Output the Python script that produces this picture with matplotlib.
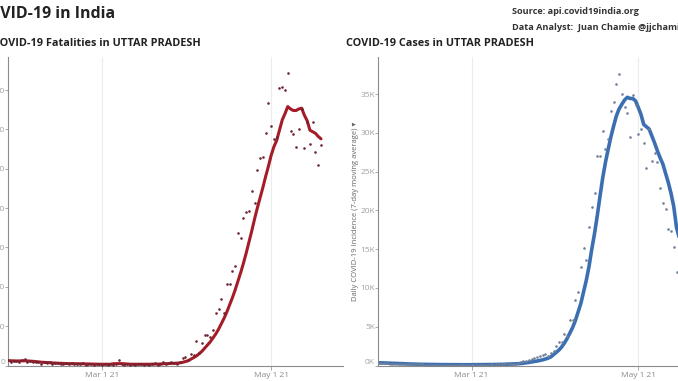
import matplotlib
matplotlib.use('Agg')
import matplotlib.pyplot as plt
import matplotlib.transforms as mtransforms
import pandas as pd

# ---------------- data ----------------
start_date = '2021-01-26'

deaths_daily = [7, 5, 6, 6, 5, 7, 8,
                5, 6, 5, 5, 4, 2, 4,
                3, 5, 2, 3, 3, 2, 2,
                3, 2, 3, 2, 2, 2, 3,
                1, 2, 2, 1, 2, 2, 1,
                2, 1, 2, 1, 2, 7, 2,
                1, 2, 1, 2, 1, 2, 2,
                1, 2, 1, 2, 3, 1, 2,
                4, 2, 3, 4, 3, 2, 5,
                10, 11, 7, 15, 13, 31, 16,
                29, 39, 39, 36, 45, 67, 72,
                85, 67, 104, 103, 120, 127, 168,
                162, 187, 195, 196, 222, 206, 249,
                264, 265, 296, 333, 304, 288, 290,
                352, 354, 350, 372, 298, 294, 278,
                301, 326, 277, 310, 281, 309, 271,
                255, 280]

deaths_avg = [6.2, 6.0, 5.9, 5.8, 5.8, 5.9, 6.0,
              5.8, 5.6, 5.3, 5.0, 4.6, 4.2, 4.0,
              3.8, 3.6, 3.3, 3.1, 2.9, 2.8, 2.6,
              2.5, 2.4, 2.4, 2.3, 2.3, 2.2, 2.2,
              2.0, 2.0, 1.9, 1.8, 1.7, 1.6, 1.6,
              1.6, 1.6, 1.6, 2.3, 2.3, 2.4, 2.4,
              2.2, 1.9, 1.7, 1.6, 1.6, 1.6, 1.6,
              1.6, 1.6, 1.6, 1.7, 1.8, 1.8, 1.9,
              2.2, 2.3, 2.5, 2.7, 2.8, 3.0, 3.3,
              4, 5, 6, 8, 10, 12, 15,
              18, 22, 26, 30, 35, 40, 46,
              53, 60, 68, 77, 86, 96, 107,
              118, 130, 143, 157, 171, 186, 200,
              213, 226, 240, 253, 267, 278, 286,
              299, 312, 320, 329, 326, 324, 324,
              326, 327, 318, 311, 299, 297, 295,
              291, 288]

cases_daily = [330, 290, 310, 270, 250, 240, 230,
               220, 200, 190, 180, 170, 160, 150,
               140, 150, 130, 120, 110, 120, 100,
               110, 100, 90, 100, 95, 100, 90,
               100, 95, 100, 90, 95, 100, 90,
               110, 100, 110, 120, 115, 120, 130,
               125, 140, 150, 160, 170, 340, 190,
               210, 230, 260, 430, 550, 640, 770,
               900, 990, 1120, 1200, 1300, 1460, 1200,
               1600, 1900, 2577, 3007, 3093, 4124, 3866,
               5842, 5928, 8419, 9536, 12715, 15200, 13571,
               17869, 20400, 22208, 27062, 27062, 30284, 27921,
               29210, 32818, 33943, 36302, 37586, 35009, 33376,
               32603, 29427, 34837, 33600, 29853, 30498, 28737,
               25430, 30500, 26377, 27448, 26289, 22852, 20920,
               20155, 17611, 17353, 15249, 12111, 13000, 12500,
               11000, 10500]

cases_avg = [350, 340, 330, 315, 300, 285, 270,
             260, 245, 230, 215, 200, 190, 180,
             170, 160, 150, 145, 140, 135, 130,
             125, 120, 115, 112, 110, 108, 105,
             104, 102, 101, 100, 100, 100, 100,
             105, 108, 110, 113, 116, 120, 124,
             128, 133, 140, 148, 158, 170, 185,
             200, 215, 230, 260, 300, 350, 400,
             460, 520, 580, 650, 730, 830, 950,
             1100, 1400, 1700, 2000, 2400, 2900, 3500,
             4200, 4900, 5800, 6900, 8000, 9500, 11000,
             12800, 15000, 17000, 19300, 21800, 24200, 26200,
             27900, 29500, 30900, 32200, 33100, 33700, 34250,
             34600, 34450, 34450, 34150, 33300, 32400, 31100,
             30800, 30500, 29600, 28700, 27700, 26800, 26000,
             24800, 23600, 22200, 20500, 17800, 16500, 15500,
             14500, 13800]

death_ticks = [0, 50, 100, 150, 200, 250, 300, 350]
case_ticks = [0, 5000, 10000, 15000, 20000, 25000, 30000, 35000]
x_tick_dates = ['2021-03-01', '2021-05-01']
x_tick_labels = ['Mar 1 21', 'May 1 21']

main_title = 'COVID-19 in India'
left_title = 'COVID-19 Fatalities in UTTAR PRADESH'
right_title = 'COVID-19 Cases in UTTAR PRADESH'
source_lines = ['Source: api.covid19india.org', 'Data Analyst:  Juan Chamie @jjchamie']
right_ylabel = 'Daily COVID-19 Incidence (7-day moving average) \u25be'

# ---------------- figure ----------------
W, H, DPI = 678, 381, 100
plt.rcParams['font.family'] = ['Open Sans', 'DejaVu Sans']
fig = plt.figure(figsize=(W / DPI, H / DPI), dpi=DPI)

dates = pd.date_range(start_date, periods=len(deaths_daily), freq='D')
cdates = pd.date_range(start_date, periods=len(cases_daily), freq='D')


def fx(px):
    return px / W


def fy(py):
    return 1 - py / H


ax_bottom = fy(365.5)
ax_h = (365.5 - 57) / H
ax_w = 335 / W
axL = fig.add_axes([fx(8), ax_bottom, ax_w, ax_h])
axR = fig.add_axes([fx(378), ax_bottom, ax_w, ax_h])

tickc = '#9a9a9a'

for ax in (axL, axR):
    for s in ('top', 'right'):
        ax.spines[s].set_visible(False)
    ax.spines['left'].set_color('#8c8c8c')
    ax.spines['bottom'].set_color('#8c8c8c')
    ax.spines['left'].set_linewidth(0.8)
    ax.spines['bottom'].set_linewidth(0.8)
    ax.set_xticks(pd.to_datetime(x_tick_dates))
    ax.set_xticklabels(x_tick_labels)
    ax.tick_params(axis='x', colors=tickc, labelsize=6, length=3, width=0.6, pad=2,
                   labelcolor='#8a8a8a')
    ax.tick_params(axis='y', colors=tickc, labelsize=6, length=2, width=0.6, pad=0.2,
                   labelcolor='#a0a0a0')
    ax.grid(axis='x', color='#ececec', linewidth=0.8)
    ax.set_axisbelow(True)

# left panel: fatalities
axL.scatter(dates, deaths_daily, s=3.5, color='#6e2432', zorder=3, linewidths=0)
axL.plot(dates, deaths_avg, color='#a41c28', linewidth=2.2, zorder=2, solid_capstyle='round')
axL.set_xlim(pd.Timestamp('2021-01-26'), pd.Timestamp('2021-01-26') + pd.Timedelta(days=335 / 2.77))
axL.set_ylim(0, 392)
axL.set_yticks(death_ticks)
axL.set_yticklabels([str(t) for t in death_ticks])

# right panel: cases
axR.scatter(cdates, cases_daily, s=3.5, color='#6f8099', zorder=3, linewidths=0)
axR.plot(cdates, cases_avg, color='#3c6fb2', linewidth=2.6, zorder=2, solid_capstyle='round')
axR.set_xlim(pd.Timestamp('2021-01-26') - pd.Timedelta(hours=5),
             pd.Timestamp('2021-01-26') + pd.Timedelta(days=335 / 2.738))
axR.set_ylim(0, 39800)
axR.set_yticks(case_ticks)
axR.set_yticklabels(['%dK' % (t // 1000) for t in case_ticks])
axR.set_ylabel(right_ylabel, fontsize=5.5, color='#666666', labelpad=1)

# lift the "0" labels a little, like the reference
for ax in (axL, axR):
    lab = ax.get_yticklabels()[0]
    lab.set_transform(lab.get_transform() + mtransforms.ScaledTranslation(0, 3 / 72, fig.dpi_scale_trans))

# ---------------- texts ----------------
renderer = fig.canvas.get_renderer()


def text_width_px(s, **kw):
    t = fig.text(0, 0, s, **kw)
    w = t.get_window_extent(renderer).width
    t.remove()
    return w


title_kw = dict(fontsize=11.5, fontweight='bold', color='#222222')
off = text_width_px('CO', **title_kw)
fig.text(fx(-off), fy(14), main_title, ha='left', va='center', **title_kw)

sub_kw = dict(fontsize=7.8, fontweight='bold', color='#222222')
off2 = text_width_px('C', **sub_kw)
fig.text(fx(-off2), fy(43.5), left_title, ha='left', va='center', **sub_kw)
fig.text(fx(346), fy(43.5), right_title, ha='left', va='center', **sub_kw)

src_kw = dict(fontsize=6.6, fontweight='bold', color='#333333')
fig.text(fx(512.5), fy(11.5), source_lines[0], ha='left', va='center', **src_kw)
fig.text(fx(512.5), fy(27.5), source_lines[1], ha='left', va='center', **src_kw)

fig.savefig('out.png', dpi=DPI)
